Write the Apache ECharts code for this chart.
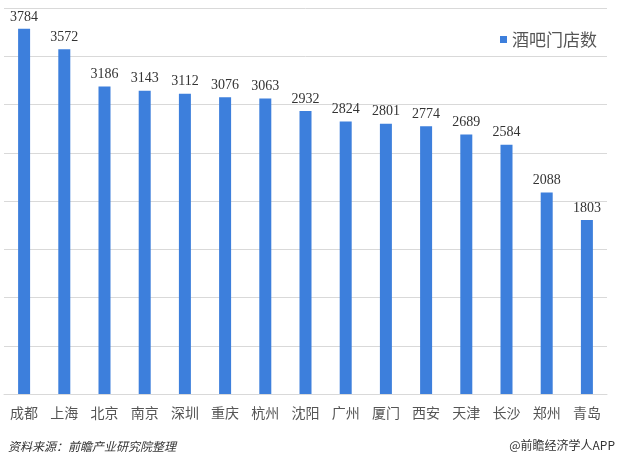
<!DOCTYPE html>
<html><head><meta charset="utf-8">
<script src="https://cdn.jsdelivr.net/npm/echarts@6/dist/echarts.min.js"></script>
<style>html,body{margin:0;padding:0;background:#fff}#c{width:621px;height:468px}</style>
</head><body><div id="c"></div>
<script>
const categories = ['成都','上海','北京','南京','深圳','重庆','杭州','沈阳','广州','厦门','西安','天津','长沙','郑州','青岛'];
const seriesName = '酒吧门店数';
const values = [3784,3572,3186,3143,3112,3076,3063,2932,2824,2801,2774,2689,2584,2088,1803];
const sourceText = '资料来源：前瞻产业研究院整理';
const creditText = '@前瞻经济学人APP';

const chart = echarts.init(document.getElementById('c'));
chart.setOption({
  animation:false,
  backgroundColor:'#fff',
  grid:{left:4,right:14,top:8,bottom:74,containLabel:false},
  legend:{data:[seriesName],right:19,top:26,itemWidth:7,itemHeight:7,icon:'rect',itemGap:5,
    textStyle:{fontFamily:'Noto Sans CJK SC',fontSize:17,color:'#555'}},
  xAxis:{type:'category',data:categories,
    axisLine:{lineStyle:{color:'#d9d9d9'}},axisTick:{show:false},
    axisLabel:{interval:0,margin:12,fontFamily:'Noto Sans CJK SC',fontSize:14,color:'#555'}},
  yAxis:{type:'value',min:0,max:4000,interval:500,axisLabel:{show:false},
    axisLine:{show:false},axisTick:{show:false},
    splitLine:{lineStyle:{color:'#d9d9d9'}}},
  series:[{name:seriesName,type:'bar',data:values,barWidth:12,
    itemStyle:{color:'#3d7fdc'},
    label:{show:true,position:'top',distance:5,fontFamily:'Liberation Serif',fontSize:14,color:'#333'}}],
  graphic:[
    {type:'text',left:8,top:440,style:{text:sourceText,font:'italic 12px "Noto Sans CJK SC"',fill:'#333'}},
    {type:'text',right:6,top:439,style:{text:creditText,font:'12px "Noto Sans CJK SC"',fill:'#333'}}
  ]
});
</script></body></html>
